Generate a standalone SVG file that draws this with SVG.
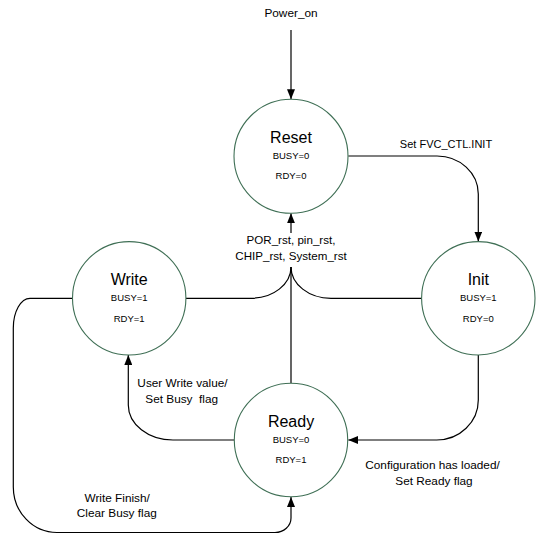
<svg xmlns="http://www.w3.org/2000/svg" width="549" height="546" viewBox="0 0 549 546">
  <style>
    .node { fill: #ffffff; stroke: #3f6f55; stroke-width: 1.1; }
    .title { font-family: "Liberation Sans", Arial, sans-serif; font-size: 16px; fill: #000; text-anchor: middle; }
    .val { font-family: "Liberation Sans", Arial, sans-serif; font-size: 9.5px; fill: #000; text-anchor: middle; }
    .lbl { font-family: "Liberation Sans", Arial, sans-serif; font-size: 11.8px; fill: #000; text-anchor: middle; }
    .edge { fill: none; stroke: #000; stroke-width: 1.2; }
  </style>
  <defs>
    <marker id="arrow" viewBox="0 0 10 8" markerWidth="10" markerHeight="8" refX="10" refY="4" orient="auto" markerUnits="userSpaceOnUse">
      <path d="M0,0 L10,4 L0,8 z" fill="#000"/>
    </marker>
  </defs>
  <rect width="549" height="546" fill="#ffffff"/>

  <g id="connectors">
    <path id="e-power" class="edge" d="M291,30 V99.3" marker-end="url(#arrow)"/>
    <path id="e-reset-init" class="edge" d="M348.3,156 H437 A41.3,38 0 0 1 478.3,194 V241.5" marker-end="url(#arrow)"/>
    <path id="e-init-ready" class="edge" d="M478.3,355 V400 A41.6,40 0 0 1 436.7,440 H348.3" marker-end="url(#arrow)"/>
    <path id="e-ready-write" class="edge" d="M234.3,440 H173 A44.7,35 0 0 1 128.3,405 V355" marker-end="url(#arrow)"/>
    <path id="e-write-ready" class="edge" d="M72.7,298.3 H30 A16.7,29.7 0 0 0 13.3,328 V487 A43.7,45.5 0 0 0 57,532.5 H275 A16,14.5 0 0 0 291,518 V497" marker-end="url(#arrow)"/>
    <path id="e-write-reset" class="edge" d="M185.7,298.3 H251 A40,31.3 0 0 0 291,267"/>
    <path id="e-init-reset" class="edge" d="M421.7,298.3 H331 A40,31.3 0 0 1 291,267"/>
    <path id="e-ready-reset" class="edge" d="M291,383.3 V267 M291,233 V213.3" marker-end="url(#arrow)"/>
  </g>

  <g id="labels">
    <text class="lbl" x="291" y="17" font-size="12">Power_on</text>
    <text class="lbl" x="446" y="148.3" style="font-size:11px">Set FVC_CTL.INIT</text>
    <text class="lbl" x="291" y="244.3" style="font-size:11.6px">POR_rst, pin_rst,</text>
    <text class="lbl" x="291" y="260" style="font-size:11.6px">CHIP_rst, System_rst</text>
    <text class="lbl" x="182.5" y="386.7">User Write value/</text>
    <text class="lbl" x="181.7" y="403.3" xml:space="preserve">Set Busy  flag</text>
    <text class="lbl" x="432.5" y="469.3">Configuration has loaded/</text>
    <text class="lbl" x="434" y="484.5">Set Ready flag</text>
    <text class="lbl" x="117.2" y="502.3">Write Finish/</text>
    <text class="lbl" x="116.8" y="517.3">Clear Busy flag</text>
  </g>

  <g id="node-reset">
    <circle class="node" cx="291" cy="156.3" r="57"/>
    <text class="title" x="291" y="143">Reset</text>
    <text class="val" x="291" y="159.3">BUSY=0</text>
    <text class="val" x="291" y="179.3">RDY=0</text>
  </g>
  <g id="node-write">
    <circle class="node" cx="129.2" cy="298.3" r="56.7"/>
    <text class="title" x="129.2" y="285.3">Write</text>
    <text class="val" x="129.2" y="301.3">BUSY=1</text>
    <text class="val" x="129.2" y="321.5">RDY=1</text>
  </g>
  <g id="node-init">
    <circle class="node" cx="478.3" cy="298.3" r="56.7"/>
    <text class="title" x="478.3" y="285.3">Init</text>
    <text class="val" x="478.3" y="301.3">BUSY=1</text>
    <text class="val" x="478.3" y="321.5">RDY=0</text>
  </g>
  <g id="node-ready">
    <circle class="node" cx="291" cy="440" r="56.7"/>
    <text class="title" x="291" y="427">Ready</text>
    <text class="val" x="291" y="443.3">BUSY=0</text>
    <text class="val" x="291" y="463.3">RDY=1</text>
  </g>
</svg>
